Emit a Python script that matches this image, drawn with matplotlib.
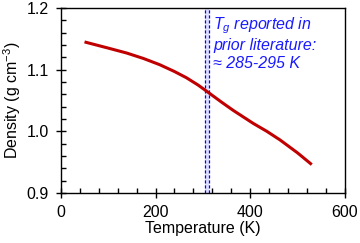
import matplotlib.pyplot as plt
from matplotlib.ticker import MultipleLocator

plt.rcParams['font.family'] = ['Liberation Sans', 'DejaVu Sans']
plt.rcParams['mathtext.fontset'] = 'custom'
plt.rcParams['mathtext.rm'] = 'Liberation Sans'
plt.rcParams['mathtext.it'] = 'Liberation Sans:italic'

# Density vs temperature
temperature = [50, 100, 139, 175, 209, 240, 265, 290, 308, 340, 364, 406, 435, 463, 500, 530]
density = [1.145, 1.135, 1.127, 1.118, 1.108, 1.097, 1.087, 1.075, 1.065, 1.047,
           1.034, 1.013, 1.000, 0.986, 0.965, 0.946]

# Tg band as drawn
tg_band = (305, 313)
tg_text = '$T_g$ reported in\nprior literature:\n≈ 285-295 K'

fig = plt.figure(figsize=(3.6, 2.43), dpi=100)
ax = fig.add_axes([0.169, 0.206, 0.789, 0.761])

ax.axvspan(tg_band[0], tg_band[1], color='#d8d8ff', alpha=0.8, lw=0)
for x in tg_band:
    ax.axvline(x, color='#0000ff', lw=0.9, ls=(0, (2.5, 1.5)))

ax.plot(temperature, density, color='#c00000', lw=2.2, solid_capstyle='butt')

ax.text(322, 1.188, tg_text, color='#1a1aff', style='italic', fontsize=11.5,
        va='top', ha='left', linespacing=1.2)

ax.set_xlim(0, 600)
ax.set_ylim(0.9, 1.2)
ax.xaxis.set_major_locator(MultipleLocator(200))
ax.xaxis.set_minor_locator(MultipleLocator(40))
ax.yaxis.set_major_locator(MultipleLocator(0.1))
ax.yaxis.set_minor_locator(MultipleLocator(0.02))
ax.yaxis.set_major_formatter(plt.FormatStrFormatter('%.1f'))

ax.tick_params(which='major', direction='inout', length=7, width=1, labelsize=11.5, pad=5)
ax.tick_params(which='minor', direction='in', length=3.5, width=1)
for s in ax.spines.values():
    s.set_linewidth(1)

ax.set_xlabel('Temperature (K)', fontsize=11.5, labelpad=1)
ax.set_ylabel('Density (g cm$^{-3}$)', fontsize=11.5, labelpad=3)

fig.savefig('out.png', dpi=100)
